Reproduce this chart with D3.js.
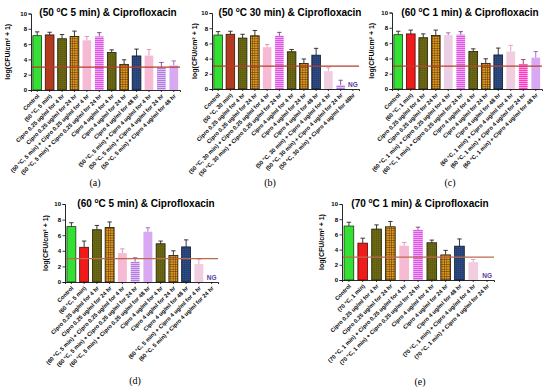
<!DOCTYPE html>
<html>
<head>
<meta charset="utf-8">
<script src="https://cdn.jsdelivr.net/npm/d3@7"></script>
<style>
  body { margin: 0; background: #fff; }
  svg { display: block; }
</style>
</head>
<body>
<div id="chart"></div>
<script>
// DATA
const titleTemps = ["50", "50", "60", "60", "70"];
const titleTimes = ["5 min", "30 min", "1 min", "5 min", "1 min"];
const captions = ["(a)", "(b)", "(c)", "(d)", "(e)"];
const yTicks = [0, 2, 4, 6, 8, 10];
const threshold = 3;

const labelsA = ["Control", "(50 °C, 5 min)", "Cipro 0.25 ug/ml for 4 hr", "Cipro 0.25 ug/ml for 24 hr",
  "(50 °C, 5 min) + Cipro 0.25 ug/ml for 4 hr", "(50 °C, 5 min) + Cipro 0.25 ug/ml for 24 hr",
  "Cipro 4 ug/ml for 4 hr", "Cipro 4 ug/ml for 24 hr", "Cipro 4 ug/ml for 48 hr",
  "(50 °C, 5 min) + Cipro 4 ug/ml for 4 hr", "(50 °C, 5 min) + Cipro 4 ug/ml for 24 hr",
  "(50 °C, 5 min) + Cipro 4 ug/ml for 48 hr"];
const valuesA = [7.1, 7.2, 6.7, 7.0, 6.5, 7.0, 4.9, 3.35, 4.45, 4.5, 2.95, 3.2];
const errorsA = [0.5, 0.35, 0.55, 0.7, 0.5, 0.5, 0.35, 0.6, 0.9, 0.8, 0.65, 0.6];

const labelsB = ["Control", "(50 °C, 30 min)", "Cipro 0.25 ug/ml for 4 hr", "Cipro 0.25 ug/ml for 24 hr",
  "(50 °C, 30 min) + Cipro 0.25 ug/ml for 4 hr", "(50 °C, 30 min) + Cipro 0.25 ug/ml for 24 hr",
  "Cipro 4 ug/ml for 4 hr", "Cipro 4 ug/ml for 24 hr", "Cipro 4 ug/ml for 48 hr",
  "(50 °C, 30 min) + Cipro 4 ug/ml for 4 hr", "(50 °C, 30 min) + Cipro 4 ug/ml for 24 hr",
  "(50 °C, 30 min) + Cipro 4 ug/ml for 48hr"];
const valuesB = [7.1, 7.2, 6.7, 7.0, 5.5, 7.0, 4.9, 3.35, 4.45, 2.35, 0.5, null];
const errorsB = [0.45, 0.4, 0.5, 0.7, 0.35, 0.45, 0.3, 0.6, 0.9, 0.45, 0.65, 0];

const labelsC = ["Control", "(60 °C, 1 min)", "Cipro 0.25 ug/ml for 4 hr", "Cipro 0.25 ug/ml for 24 hr",
  "(60 °C, 1 min) + Cipro 0.25 ug/ml for 4 hr", "(60 °C, 1 min) + Cipro 0.25 ug/ml for 24 hr",
  "Cipro 4 ug/ml for 4 hr", "Cipro 4 ug/ml for 24 hr", "Cipro 4 ug/ml for 48 hr",
  "(60 °C, 1 min) + Cipro 4 ug/ml for 4 hr", "(60 °C, 1 min) + Cipro 4 ug/ml for 24 hr",
  "(60 °C, 1 min) + Cipro 4 ug/ml for 48 hr"];
const valuesC = [7.1, 7.2, 6.7, 7.0, 7.05, 7.1, 4.9, 3.35, 4.45, 4.9, 3.25, 4.1];
const errorsC = [0.45, 0.5, 0.5, 0.7, 0.3, 0.4, 0.35, 0.6, 0.9, 0.8, 0.6, 0.8];

const labelsD = ["Control", "(60 °C, 5 min)", "Cipro 0.25 ug/ml for 4 hr", "Cipro 0.25 ug/ml for 24 hr",
  "(60 °C, 5 min) + Cipro 0.25 ug/ml for 4 hr", "(60 °C, 5 min) + Cipro 0.25 ug/ml for 24 hr",
  "(60 °C, 5 min) + Cipro 0.25 ug/ml for 48 hr",
  "Cipro 4 ug/ml for 4 hr", "Cipro 4 ug/ml for 24 hr", "Cipro 4 ug/ml for 48 hr",
  "(60 °C, 5 min) + Cipro 4 ug/ml for 4 hr", "(60 °C, 5 min) + Cipro 4 ug/ml for 24 hr"];
const valuesD = [7.1, 4.45, 6.7, 7.0, 3.7, 2.6, 6.45, 4.9, 3.4, 4.5, 2.3, null];
const errorsD = [0.5, 0.8, 0.55, 0.7, 0.55, 0.5, 0.5, 0.35, 0.6, 0.9, 0.6, 0];

const labelsE = ["Control", "(70 °C, 1 min)", "Cipro 0.25 ug/ml for 4 hr", "Cipro 0.25 ug/ml for 24 hr",
  "(70 °C, 1 min) + Cipro 0.25 ug/ml for 4 hr", "(70 °C, 1 min) + Cipro 0.25 ug/ml for 24 hr",
  "Cipro 4 ug/ml for 4 hr", "Cipro 4 ug/ml for 24 hr", "Cipro 4 ug/ml for 48 hr",
  "(70 °C, 1 min) + Cipro 4 ug/ml for 4 hr", "(70 °C, 1 min) + Cipro 4 ug/ml for 24 hr"];
const valuesE = [7.1, 4.85, 6.7, 7.0, 4.5, 6.6, 4.9, 3.3, 4.45, 2.35, null];
const errorsE = [0.5, 0.65, 0.55, 0.7, 0.45, 0.35, 0.35, 0.6, 0.95, 0.35, 0];

// bar look per panel (style keys)
const fillsA = ["green", "brick", "olive", "orange", "pink", "violetStripe", "olive", "orange", "navy", "pink", "lavStripe", "lightViolet"];
const fillsB = ["green", "brick", "olive", "orange", "pink", "violetStripe", "olive", "orange", "navy", "palePink", "lavStripe", "lightViolet"];
const fillsC = ["green", "red", "olive", "orange", "paleLilac", "violetStripe", "olive", "orange", "navy", "palePink", "hotStripe", "lightViolet"];
const fillsD = ["green", "red", "olive", "orange", "pink", "lavStripe", "lightViolet", "olive", "orange", "navy", "palePink", "lightViolet"];
const fillsE = ["green", "red", "olive", "orange", "pink", "violetStripe", "olive", "orange", "navy", "palePink", "lightViolet"];

const styles = {
  green:        { fill: "#35e035", stroke: "#1d3a12", err: "#222" },
  brick:        { fill: "#b23a1e", stroke: "#3a1208", err: "#222" },
  red:          { fill: "#f01a1a", stroke: "#4a0a0a", err: "#222" },
  olive:        { fill: "url(#p-olive)", stroke: "#1e1e06", err: "#222" },
  orange:       { fill: "url(#p-orange)", stroke: "#1e1404", err: "#222" },
  navy:         { fill: "url(#p-navy)", stroke: "#0c1428", err: "#222" },
  pink:         { fill: "#f6bad4", stroke: "none", err: "#e48ab4" },
  palePink:     { fill: "#f0cde0", stroke: "none", err: "#e49ac0" },
  paleLilac:    { fill: "#ecd0e6", stroke: "none", err: "#a06a96" },
  violetStripe: { fill: "url(#p-violet)", stroke: "none", err: "#7a3a8a" },
  lavStripe:    { fill: "url(#p-lav)", stroke: "none", err: "#7a4a9a" },
  hotStripe:    { fill: "url(#p-hot)", stroke: "none", err: "#b02080" },
  lightViolet:  { fill: "#d9a8f2", stroke: "none", err: "#9a60b8" }
};

// LAYOUT
const panels = [
  { labels: labelsA, values: valuesA, errors: errorsA, fills: fillsA, x0: 31, x1: 180, y0: 90, y1: 13.5, titleX: 108, titleY: 16, ylabX: 10, capX: 95, capY: 186, refColor: "#b53c2c" },
  { labels: labelsB, values: valuesB, errors: errorsB, fills: fillsB, x0: 212, x1: 359, y0: 89, y1: 13, titleX: 290, titleY: 16, ylabX: 197, capX: 270, capY: 186, refColor: "#b53c2c" },
  { labels: labelsC, values: valuesC, errors: errorsC, fills: fillsC, x0: 392, x1: 542, y0: 89, y1: 12.5, titleX: 470, titleY: 16, ylabX: 374, capX: 450, capY: 186, refColor: "#b5452c" },
  { labels: labelsD, values: valuesD, errors: errorsD, fills: fillsD, x0: 65, x1: 218, y0: 282, y1: 204, titleX: 146, titleY: 207, ylabX: 48, capX: 135, capY: 384, refColor: "#bb6a4c" },
  { labels: labelsE, values: valuesE, errors: errorsE, fills: fillsE, x0: 342, x1: 494, y0: 280, y1: 204, titleX: 420, titleY: 207, ylabX: 324, capX: 420, capY: 385, refColor: "#bb6a4c" }
];

const width = 550, height = 388;
const svg = d3.select('#chart').append('svg')
  .attr('width', width)
  .attr('height', height)
  .style('font-family', '"Liberation Sans", Arial, sans-serif');

// PATTERNS
const defs = svg.append('defs');
const grid = (id, size, bg, line, lw) => {
  const p = defs.append('pattern').attr('id', id).attr('patternUnits', 'userSpaceOnUse')
    .attr('width', size).attr('height', size);
  p.append('rect').attr('width', size).attr('height', size).attr('fill', bg);
  p.append('path').attr('d', `M0 0H${size}M0 0V${size}`).attr('stroke', line).attr('stroke-width', lw);
};
const stripes = (id, bg, line) => {
  const p = defs.append('pattern').attr('id', id).attr('patternUnits', 'userSpaceOnUse')
    .attr('width', 4).attr('height', 2);
  p.append('rect').attr('width', 4).attr('height', 2).attr('fill', bg);
  p.append('rect').attr('width', 4).attr('height', 1).attr('fill', line);
};
grid('p-olive', 2, '#6e6c14', '#4a4908', 0.5);
grid('p-orange', 2.4, '#e59a22', '#3a2400', 0.8);
grid('p-navy', 2, '#304f8a', '#182848', 0.5);
stripes('p-violet', '#f2a6f4', '#d85ae4');
stripes('p-lav', '#e2c0f4', '#b07ce0');
stripes('p-hot', '#ff9ee0', '#ff38c4');

// DRAW PANELS
panels.forEach((pn, k) => {
  const g = svg.append('g');
  const idx = pn.labels.map((d, i) => i);

  const xScale = d3.scaleBand()
    .domain(idx)
    .range([pn.x0, pn.x1])
    .paddingInner(0.3)
    .paddingOuter(0.15);

  const yScale = d3.scaleLinear()
    .domain([0, 10])
    .range([pn.y0, pn.y1]);

  // bars
  const rows = idx.map(i => ({ i: i, v: pn.values[i], e: pn.errors[i], s: styles[pn.fills[i]] }));

  g.selectAll('line.err')
    .data(rows.filter(d => d.v !== null))
    .enter()
    .append('path')
    .attr('fill', 'none')
    .attr('stroke', d => d.s.err)
    .attr('stroke-width', 0.9)
    .attr('d', d => {
      const cx = xScale(d.i) + xScale.bandwidth() / 2;
      const top = yScale(d.v + d.e);
      return `M${cx},${yScale(d.v)}V${top}M${cx - 2.2},${top}H${cx + 2.2}`;
    });

  g.selectAll('rect.bar')
    .data(rows.filter(d => d.v !== null))
    .enter()
    .append('rect')
    .attr('x', d => xScale(d.i))
    .attr('y', d => yScale(d.v))
    .attr('width', xScale.bandwidth())
    .attr('height', d => yScale(0) - yScale(d.v))
    .attr('fill', d => d.s.fill)
    .attr('stroke', d => d.s.stroke)
    .attr('stroke-width', 0.8);

  // NG markers
  g.selectAll('text.ng')
    .data(rows.filter(d => d.v === null))
    .enter()
    .append('text')
    .attr('x', d => xScale(d.i) + xScale.bandwidth() / 2)
    .attr('y', yScale(0) - 2)
    .attr('text-anchor', 'middle')
    .attr('font-size', 6.5)
    .attr('font-weight', 'bold')
    .attr('fill', '#5a3aa0')
    .text('NG');

  // threshold line
  g.append('line')
    .attr('x1', pn.x0)
    .attr('x2', pn.x1)
    .attr('y1', yScale(threshold))
    .attr('y2', yScale(threshold))
    .attr('stroke', pn.refColor)
    .attr('stroke-width', 1.2);

  // axes
  const yAxis = g.append('g')
    .attr('transform', `translate(${pn.x0},0)`)
    .call(d3.axisLeft(yScale).tickValues(yTicks).tickSize(2.5).tickPadding(1.5));
  yAxis.selectAll('text').attr('font-size', 6).attr('font-weight', 'bold')
    .attr('font-family', '"Liberation Sans", Arial, sans-serif');

  const xAxis = g.append('g')
    .attr('transform', `translate(0,${pn.y0})`)
    .call(d3.axisBottom(xScale).tickSize(2).tickFormat(i => pn.labels[i]));
  xAxis.selectAll('text')
    .attr('font-size', 5.7)
    .attr('font-weight', 'bold')
    .attr('font-family', '"Liberation Sans", Arial, sans-serif')
    .attr('text-anchor', 'end')
    .attr('dy', 0)
    .attr('transform', 'translate(-1,3) rotate(-45)');

  [yAxis, xAxis].forEach(a => {
    a.select('.domain').attr('stroke', '#111').attr('stroke-width', 0.9);
    a.selectAll('.tick line').attr('stroke', '#111').attr('stroke-width', 0.8);
  });

  // y label
  g.append('text')
    .attr('transform', `translate(${pn.ylabX},${(pn.y0 + pn.y1) / 2}) rotate(-90)`)
    .attr('text-anchor', 'middle')
    .attr('font-size', 7)
    .attr('font-weight', 'bold')
    .text('log(CFU/cm² + 1)');

  // title
  const t = g.append('text')
    .attr('x', pn.titleX)
    .attr('y', pn.titleY)
    .attr('text-anchor', 'middle')
    .attr('font-size', 10)
    .attr('font-weight', 'bold');
  t.append('tspan').text(`(${titleTemps[k]} `);
  t.append('tspan').attr('dy', -3.8).attr('font-size', 6.5).text('o');
  t.append('tspan').attr('dy', 3.8).text(`C ${titleTimes[k]}) & Ciprofloxacin`);

  // caption
  g.append('text')
    .attr('x', pn.capX)
    .attr('y', pn.capY)
    .attr('text-anchor', 'middle')
    .attr('font-size', 10)
    .attr('font-family', '"Liberation Serif", "Times New Roman", serif')
    .text(captions[k]);
});
</script>
</body>
</html>
